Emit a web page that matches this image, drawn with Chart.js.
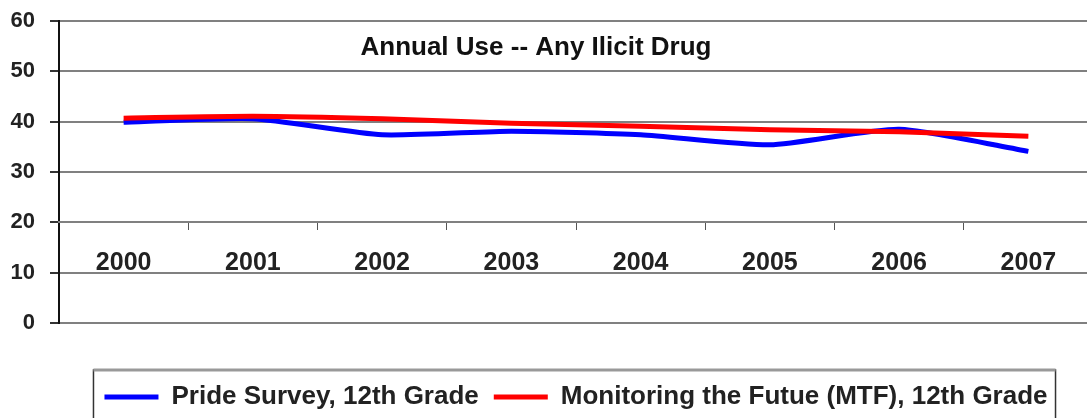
<!DOCTYPE html>
<html>
<head>
<meta charset="utf-8">
<script src="https://cdn.jsdelivr.net/npm/chart.js@4.4.1/dist/chart.umd.min.js"></script>
<style>
  html, body { margin: 0; padding: 0; background: #fff; overflow: hidden; }
</style>
</head>
<body>
<canvas id="chart" width="1094" height="420"></canvas>
<script>
const chartTitle = "Annual Use -- Any Ilicit Drug";
const years = ["2000", "2001", "2002", "2003", "2004", "2005", "2006", "2007"];
const prideLabel = "Pride Survey, 12th Grade";
const prideValues = [39.9, 40.6, 37.4, 38.1, 37.4, 35.4, 38.5, 34.1];
const mtfLabel = "Monitoring the Futue (MTF), 12th Grade";
const mtfValues = [40.7, 41.1, 40.6, 39.7, 39.1, 38.4, 38.0, 37.1];
const yTicks = [0, 10, 20, 30, 40, 50, 60];

const FONT = "'Liberation Sans', Arial, sans-serif";

// title sits inside the plot area, not above it
const innerTitle = {
  id: "innerTitle",
  afterDraw(chart) {
    const ctx = chart.ctx;
    const area = chart.chartArea;
    ctx.save();
    ctx.font = "bold 26px " + FONT;
    ctx.fillStyle = "#111";
    ctx.textAlign = "center";
    ctx.textBaseline = "alphabetic";
    ctx.fillText(chartTitle, area.left + area.width * 0.4613, area.top + 34);
    ctx.restore();
  }
};

// frame around the legend
const legendFrame = {
  id: "legendFrame",
  afterDraw(chart) {
    const boxes = chart.legend.legendHitBoxes;
    if (!boxes || !boxes.length) return;
    const first = boxes[0];
    const last = boxes[boxes.length - 1];
    const left = first.left - 11;
    const right = last.left + last.width + 8;
    const top = first.top - 14;
    const ctx = chart.ctx;
    ctx.save();
    ctx.strokeStyle = "#333";
    ctx.lineWidth = 1.5;
    ctx.beginPath();
    ctx.moveTo(left, chart.height + 5);
    ctx.lineTo(left, top);
    ctx.lineTo(right, top);
    ctx.lineTo(right, chart.height + 5);
    ctx.stroke();
    ctx.strokeStyle = "#999";
    ctx.lineWidth = 3;
    ctx.beginPath();
    ctx.moveTo(left, top);
    ctx.lineTo(right, top);
    ctx.stroke();
    ctx.restore();
  }
};

const ctx = document.getElementById("chart").getContext("2d");
new Chart(ctx, {
  type: "line",
  data: {
    labels: years,
    datasets: [
      {
        label: prideLabel,
        data: prideValues,
        borderColor: "#0000ff",
        backgroundColor: "#0000ff",
        borderWidth: 5,
        pointRadius: 0,
        tension: 0.2,
        order: 2
      },
      {
        label: mtfLabel,
        data: mtfValues,
        borderColor: "#ff0000",
        backgroundColor: "#ff0000",
        borderWidth: 5,
        pointRadius: 0,
        tension: 0.2,
        order: 1
      }
    ]
  },
  options: {
    responsive: false,
    animation: false,
    layout: { padding: { top: 21, right: 1, left: 0, bottom: 0 } },
    plugins: {
      tooltip: { enabled: false },
      legend: {
        position: "bottom",
        fullSize: false,
        title: { display: true, text: "", font: { size: 1, lineHeight: 1 }, padding: { top: 45, bottom: 0 } },
        labels: {
          font: { family: FONT, size: 26, weight: "bold" },
          color: "#222",
          boxWidth: 54,
          boxHeight: 5,
          padding: 15,
          sort: (a, b) => a.datasetIndex - b.datasetIndex,
          generateLabels: chart =>
            Chart.defaults.plugins.legend.labels.generateLabels(chart).map(item => ({
              ...item,
              fillStyle: item.strokeStyle,
              lineWidth: 0
            }))
        }
      }
    },
    scales: {
      y: {
        min: 0,
        max: 60,
        afterBuildTicks: axis => { axis.ticks = yTicks.map(v => ({ value: v })); },
        afterFit: axis => {
          axis.width = 59;
          axis.paddingTop = 0;
          axis.paddingBottom = 0;
        },
        grid: { color: "#808080", lineWidth: 2, tickColor: "#333", tickLength: 9, drawTicks: true },
        border: { color: "#111", width: 2 },
        ticks: {
          padding: 15,
          color: "#222",
          font: { family: FONT, size: 22, weight: "bold" }
        }
      },
      x: {
        position: { y: 20 },
        offset: true,
        grid: { offset: true, drawOnChartArea: false, tickColor: "#555", tickLength: 7 },
        border: { color: "#808080", width: 2 },
        ticks: {
          padding: 19,
          color: "#222",
          maxRotation: 0,
          font: { family: FONT, size: 25, weight: "bold" }
        }
      }
    }
  },
  plugins: [innerTitle, legendFrame]
});
</script>
</body>
</html>
